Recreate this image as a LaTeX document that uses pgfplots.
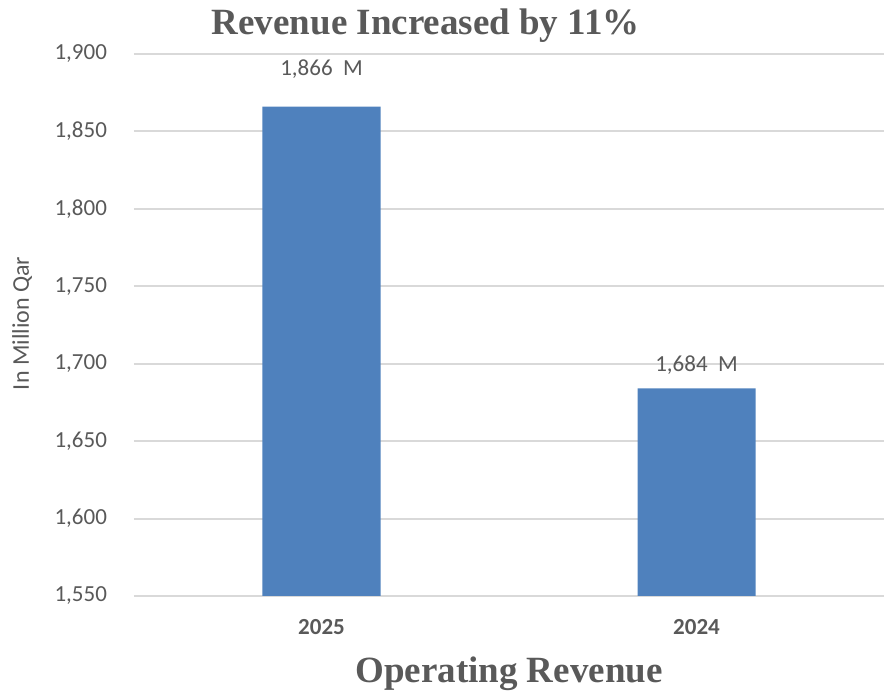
\documentclass[border=0pt]{standalone}
\usepackage{fontspec}
\setmainfont{Carlito}
\newfontfamily\serifbold{Liberation Serif}
\usepackage{pgfplots}
\pgfplotsset{compat=1.18}
\definecolor{barBlue}{HTML}{4F81BD}
\definecolor{txtGray}{HTML}{595959}
\definecolor{gridGray}{HTML}{D9D9D9}

\begin{document}
\begin{tikzpicture}
\begin{axis}[
  at={(0,0)}, anchor=south west,
  scale only axis, width=375pt, height=271pt,
  xmin=-0.5, xmax=1.5, ymin=1550, ymax=1900,
  ytick distance=50,
  xtick={0,1}, xticklabels={2025,2024},
  axis line style={draw=none},
  major tick length=0pt,
  ymajorgrids, grid style={gridGray, line width=1pt},
  /pgf/number format/.cd, 1000 sep={,}, assume math mode=true,
  /pgfplots/.cd,
  yticklabel style={font=\fontsize{11.5}{13}\selectfont, text=txtGray, xshift=-10pt},
  xticklabel style={font=\fontsize{11.5}{13}\selectfont\bfseries, text=txtGray, yshift=-8pt},
  title={Revenue Increased by 11\%},
  title style={font=\serifbold\bfseries\fontsize{18.5}{22}\selectfont, text=txtGray,
    at={(rel axis cs:0.389,1.013)}, anchor=base},
  xlabel={Operating Revenue},
  xlabel style={font=\serifbold\bfseries\fontsize{18.5}{22}\selectfont, text=txtGray,
    at={(rel axis cs:0.5,-0.1605)}, anchor=base},
  ylabel={In Million Qar},
  ylabel style={font=\fontsize{12}{14}\selectfont, text=txtGray,
    at={(rel axis cs:-0.149,0.503)}, anchor=center},
]
\addplot[ybar, fill=barBlue, draw=none, bar width=59pt] coordinates {(0,1866) (1,1684)};
\node[font=\fontsize{11.5}{13}\selectfont, text=txtGray] at (axis cs:0,1890) {1,866~~M};
\node[font=\fontsize{11.5}{13}\selectfont, text=txtGray] at (axis cs:1,1699) {1,684~~M};
\end{axis}
\pgfresetboundingbox
\path[use as bounding box] (-67pt,-50pt) rectangle (375pt,298pt);
\end{tikzpicture}
\end{document}
